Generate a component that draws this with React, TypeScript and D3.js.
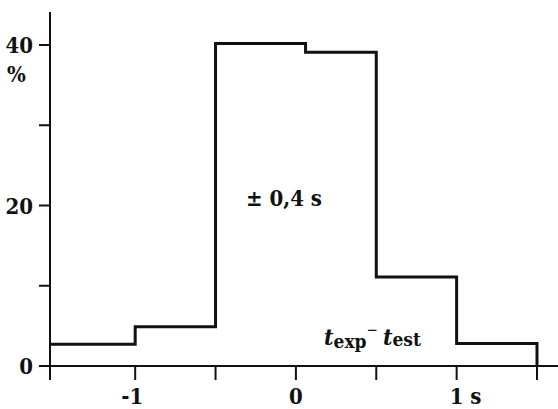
import React, { useRef, useEffect } from "react";
import * as d3 from "d3";

// bin edges (s) and share of trials (%)
const binEdges = [-1.53, -1, -0.5, 0.06, 0.5, 1, 1.5];
const binValues = [2.7, 4.9, 40.2, 39.1, 11.1, 2.8];

const xTicks = [-1.53, -1, -0.5, 0, 0.5, 1, 1.5];
const xTickLabels = [
  { v: -1, t: "-1" },
  { v: 0, t: "0" },
  { v: 1, t: "1 s" },
];
const yTicks = [0, 10, 20, 30, 40];
const yTickLabels = [0, 20, 40];

const W = 558;
const H = 409;
const FONT = "'DejaVu Serif Condensed', 'DejaVu Serif', serif";

const App = () => {
  const ref = useRef<SVGSVGElement | null>(null);

  useEffect(() => {
    if (!ref.current) return;
    const svg = d3.select(ref.current);
    svg.selectAll("*").remove();

    const x = d3.scaleLinear().domain([-1.53, 1.5]).range([50, 537]);
    const y = d3.scaleLinear().domain([0, 40]).range([366, 45]);
    const x0 = x(-1.53);
    const y0 = y(0);

    // axes
    svg.append("line")
      .attr("x1", 39).attr("x2", W).attr("y1", y0).attr("y2", y0)
      .attr("stroke", "#111").attr("stroke-width", 2);
    svg.append("line")
      .attr("x1", x0).attr("x2", x0).attr("y1", y(44.1)).attr("y2", y0 + 14)
      .attr("stroke", "#111").attr("stroke-width", 2);

    svg.selectAll(".xtick").data(xTicks).enter().append("line")
      .attr("x1", d => x(d)).attr("x2", d => x(d))
      .attr("y1", y0).attr("y2", y0 + 14)
      .attr("stroke", "#111").attr("stroke-width", 2);

    svg.selectAll(".ytick").data(yTicks).enter().append("line")
      .attr("x1", x0 - 11).attr("x2", x0)
      .attr("y1", d => y(d)).attr("y2", d => y(d))
      .attr("stroke", "#111").attr("stroke-width", 2);

    const txt = svg.append("g")
      .style("font-family", FONT).style("font-stretch", "condensed")
      .style("font-weight", "bold")
      .style("font-size", "22px").attr("fill", "#111");

    txt.selectAll(".ylab").data(yTickLabels).enter().append("text")
      .attr("x", 33).attr("y", d => y(d) + 8)
      .attr("text-anchor", "end")
      .text(d => String(d));

    txt.append("text").attr("x", 7).attr("y", y(40) + 37).text("%");

    txt.selectAll(".xlab").data(xTickLabels).enter().append("text")
      .attr("x", d => x(d.v) - 7).attr("y", 404)
      .attr("text-anchor", "start")
      .attr("dx", d => (d.t === "-1" ? -7 : 0))
      .text(d => d.t);

    // histogram outline
    const pts: [number, number][] = [];
    binValues.forEach((v, i) => {
      pts.push([x(binEdges[i]), y(v)]);
      pts.push([x(binEdges[i + 1]), y(v)]);
    });
    pts.push([x(binEdges[binEdges.length - 1]), y0]);
    svg.append("path")
      .attr("d", d3.line()(pts))
      .attr("fill", "none").attr("stroke", "#111").attr("stroke-width", 3)
      .attr("stroke-linejoin", "miter");

    // annotations
    txt.append("text").attr("x", 246).attr("y", 206).text("\u00b1 0,4 s");

    const t = txt.append("text").attr("x", 324).attr("y", 345).style("font-size", "23px");
    t.append("tspan").style("font-style", "italic").text("t");
    t.append("tspan").attr("dy", 3).style("font-size", "19px").text("exp");
    t.append("tspan").attr("dy", -13).style("font-size", "15px").style("font-weight", "normal").text("\u2212");
    t.append("tspan").attr("dx", 5).attr("dy", 10).style("font-style", "italic").text("t");
    t.append("tspan").attr("dx", 0).attr("dy", 1).style("font-size", "19px").text("est");
  }, []);

  return <svg ref={ref} width={W} height={H} style={{ display: "block", position: "absolute", left: 0, top: 0 }} />;
};

export default App;
